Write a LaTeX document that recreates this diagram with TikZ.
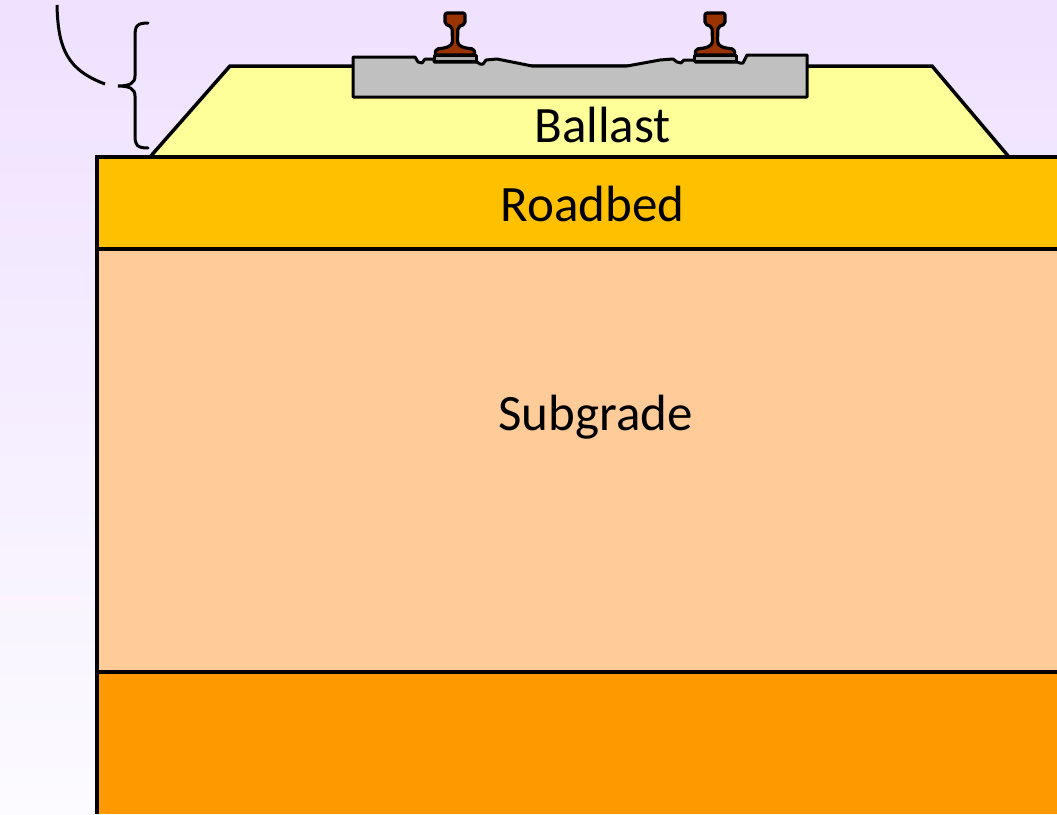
\documentclass[tikz,border=0pt]{standalone}
\usepackage{fontspec}
\setmainfont{Carlito}
\definecolor{bgtop}{RGB}{239,225,255}
\definecolor{bgbot}{RGB}{252,251,255}
\definecolor{ballastc}{RGB}{255,255,153}
\definecolor{roadbedc}{RGB}{255,192,0}
\definecolor{subgradec}{RGB}{255,204,153}
\definecolor{basec}{RGB}{255,153,0}
\definecolor{tiec}{RGB}{192,192,192}
\definecolor{platec}{RGB}{170,170,170}
\definecolor{railc}{RGB}{153,51,0}
\begin{document}
\begin{tikzpicture}[x=1pt,y=-1pt,
  edge/.style={draw=black,line width=4pt},
  tieline/.style={draw=black,line width=3pt,line join=round},
  railbody/.style={fill=railc,draw=black,line width=3.2pt,line join=round,rounded corners=2pt},
  layerlabel/.style={font=\fontsize{51}{60}\selectfont,anchor=base,inner sep=0pt}]
\useasboundingbox (0,0) rectangle (1057,814);
% background
\shade[top color=bgtop,bottom color=bgbot] (0,0) rectangle (1057,814);

% ground layers
\fill[basec] (97,672) rectangle (1057,814);
\fill[subgradec] (97,248) rectangle (1057,672);
\fill[roadbedc] (97,157) rectangle (1057,248);

% ballast embankment
\fill[ballastc] (150,157) -- (230,66) -- (932,66) -- (1009,157) -- cycle;
\draw[edge,line width=3.5pt,line join=miter] (150,157) -- (230,66) -- (932,66) -- (1009,157);

% layer boundaries
\draw[edge] (97,814) -- (97,157) -- (1057,157);
\draw[edge] (97,248.5) -- (1057,248.5);
\draw[edge] (97,672) -- (1057,672);

% concrete tie
\filldraw[fill=tiec,tieline] (353,57) -- (415,57) -- (418,62) -- (422,63) -- (425,59) -- (434,59)
  -- (434,62) -- (477,62) -- (480,64) -- (483,64) -- (486,60) -- (497,59) -- (532,66)
  -- (627,66) -- (660,60) -- (673,59) -- (677,62) -- (681,63) -- (684,60) -- (695,60)
  -- (695,62) -- (737,62) -- (740,63) -- (743,63) -- (747,55) -- (807,55)
  -- (807,97) -- (353,97) -- cycle;

% rails with their tie plates
\foreach \cx/\nm in {455/left,715/right}{
  \begin{scope}[shift={(\cx,0)}]
    \filldraw[fill=platec,tieline] (-21,55) rectangle (21,61);
    \filldraw[railbody] (-10,13) -- (10,13) -- (10,24) -- (3,27) -- (2.5,40)
      .. controls (3,46) and (8,48) .. (19,49) -- (20,55) -- (-20,55) -- (-19,49)
      .. controls (-8,48) and (-3,46) .. (-2.5,40) -- (-3,27) -- (-10,24) -- cycle;
    \coordinate (rail-\nm) at (0,13);
  \end{scope}
}

% brace and leader
\draw[line width=3pt,line cap=round] (148,23) .. controls (137,23) and (135,26) .. (135,36)
  -- (135,76) .. controls (135,83) and (130,86) .. (118,86)
  .. controls (130,86) and (135,89) .. (135,96)
  -- (135,136) .. controls (135,145) and (137,148) .. (148,148);
\coordinate (leadtop) at (57,5);
\coordinate (leadend) at (105,84);
\draw[line width=3pt] (leadtop) .. controls (58,50) and (68,70) .. (leadend);

% labels
\node[layerlabel] (ballast) at (602.5,142) {Ballast};
\node[layerlabel] (roadbed) at (592.5,221) {Roadbed};
\node[layerlabel] (subgrade) at (595.5,430) {Subgrade};
\end{tikzpicture}
\end{document}
